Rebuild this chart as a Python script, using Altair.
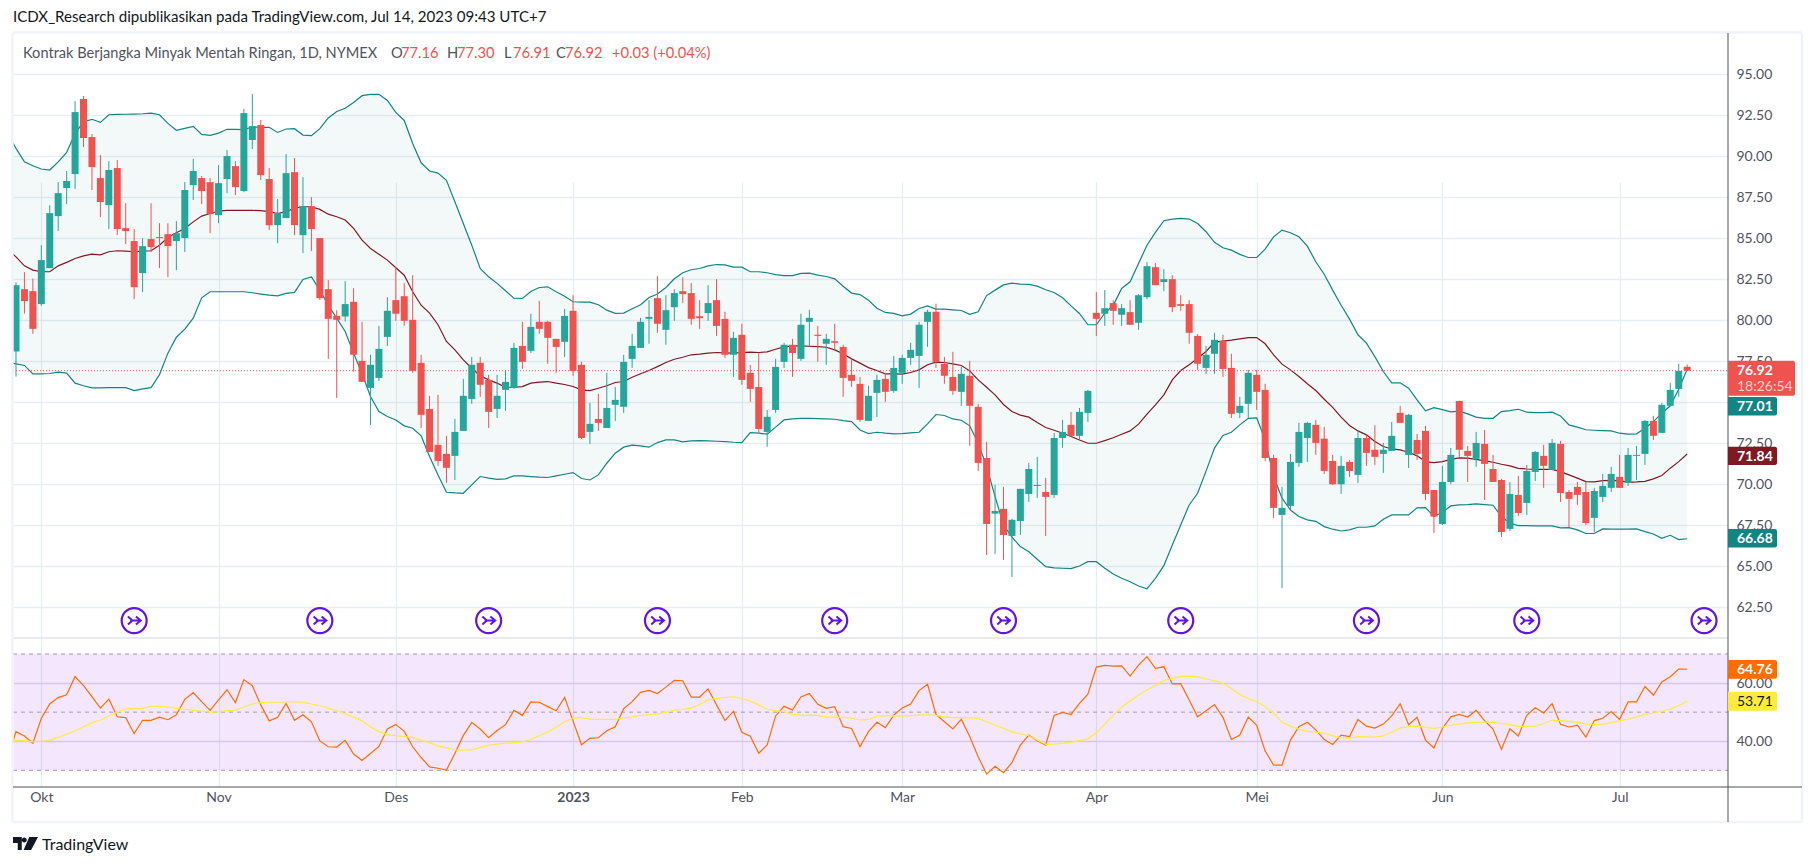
import altair as alt
import pandas as pd

directions = ("grrggggg" "rr"
              "rgrrrgrrrg"
              "ggrrggrggr"
              "rggrgrrrrg"
              "rrgggrrrrr"
              "rrgggrrggg"
              "rgrrrgrrgr"
              "ggggggrggr"
              "rrgrrgrrrg"
              "ggrggrgrrr"
              "rggrgggggr"
              "rrgrrrgrgg"
              "ggrggrggrg"
              "rgrggrgrrr"
              "rggrrggrrr"
              "ggggrrrgrg"
              "rrggrgrrrg"
              "grrgrrrgrg"
              "grgrrrrggg"
              "rgggrgggr")

body_top = [82.13,81.89,81.77,83.66,86.52,87.74,88.48,92.68,93.48,91.16,
88.66,89.15,89.27,85.61,84.82,84.51,84.94,85.06,85.24,85.30,
87.93,89.09,88.66,88.41,88.35,90.00,89.39,92.62,91.83,91.89,
88.60,86.52,88.96,89.02,86.95,86.95,85.00,81.89,80.26,80.98,
81.12,77.52,77.28,78.25,80.57,81.22,81.46,80.02,77.40,74.59,
72.40,71.85,73.19,75.39,77.28,77.40,76.36,75.39,76.24,78.31,
78.43,79.59,79.90,79.90,78.86,80.26,80.57,77.28,73.68,73.98,
74.65,75.14,77.46,78.43,79.90,80.20,81.34,80.61,81.65,81.77,
81.65,80.24,81.04,81.22,80.08,78.92,79.11,76.79,75.93,74.11,
77.15,78.50,78.50,79.72,80.14,79.11,78.86,78.72,78.37,76.67,
76.12,75.39,76.36,76.42,77.09,77.70,78.19,79.72,80.51,80.51,
77.34,76.54,76.73,76.61,74.72,71.60,68.37,68.50,67.83,69.72,
70.93,69.96,69.53,72.82,73.19,73.62,74.41,75.69,80.45,80.73,
81.04,80.73,80.49,81.52,83.29,83.23,82.50,82.50,80.98,80.98,
79.04,77.89,78.80,78.74,77.09,74.78,76.79,76.67,75.75,71.60,
68.56,71.36,73.19,73.74,73.62,72.78,71.42,71.12,71.36,72.82,
72.82,72.10,72.10,72.95,74.35,74.23,72.70,73.25,69.65,70.14,
71.79,75.08,72.03,72.52,72.46,70.93,70.26,69.41,69.35,70.81,
71.97,71.73,72.52,72.46,69.53,69.84,69.53,69.59,69.90,70.63,
70.45,71.79,71.79,73.86,73.86,74.84,75.75,76.91,77.16]

body_bottom = [78.09,81.16,79.47,80.98,83.17,86.34,88.05,88.90,91.10,89.33,
87.20,87.01,85.55,85.43,82.01,82.87,84.45,85.00,84.51,84.82,
85.00,88.23,87.87,86.46,86.40,88.60,88.11,87.87,90.98,88.84,
85.79,85.79,86.22,85.79,85.18,85.55,81.34,80.08,80.02,80.22,
77.89,76.24,75.87,76.48,78.98,80.39,79.96,76.91,74.23,71.97,
71.42,71.00,71.73,73.25,75.20,76.06,74.41,74.59,75.75,75.87,
77.46,78.13,79.47,78.92,78.37,78.68,76.91,72.82,73.19,73.74,
73.43,74.84,74.72,77.64,78.31,80.08,79.78,79.41,80.79,81.59,
80.08,80.12,80.43,79.65,77.89,77.89,76.36,75.81,73.37,73.19,
74.53,77.46,78.00,77.64,79.90,79.04,78.56,78.62,76.48,76.30,
73.92,73.86,75.57,75.63,75.69,76.79,77.70,77.82,79.90,77.46,
76.61,75.69,75.63,74.78,71.30,67.58,68.21,66.91,66.85,67.76,
69.41,69.90,69.23,69.35,72.82,72.95,72.95,74.35,80.08,80.39,
80.57,80.33,79.72,79.84,81.40,82.13,82.32,80.79,80.87,79.23,
77.34,77.09,77.95,77.03,74.29,74.35,74.90,75.63,71.60,68.56,
68.13,68.68,71.30,72.82,72.52,70.81,70.00,70.00,70.81,70.57,
71.91,71.67,71.85,72.03,73.74,71.79,71.85,69.41,68.03,67.58,
70.14,72.10,71.73,71.55,71.24,70.14,67.09,67.28,68.25,68.86,
70.75,71.12,70.87,69.47,69.11,69.35,67.64,67.95,69.23,69.78,
69.78,70.08,71.73,71.85,72.95,73.13,74.78,75.81,76.92]

highs = [82.30,82.93,82.54,84.57,87.01,88.41,89.09,93.35,93.66,91.34,
90.06,89.69,89.76,87.13,85.55,85.00,87.13,85.91,85.91,86.04,
88.41,89.82,88.78,88.66,89.45,90.37,89.69,92.87,93.78,92.20,
89.27,87.38,90.12,89.88,88.72,87.50,85.00,82.44,80.60,82.38,
81.95,79.90,77.89,79.65,81.40,83.25,82.26,82.74,77.89,75.39,
75.45,72.95,73.98,76.42,77.76,77.76,76.67,76.67,76.97,78.62,
79.90,80.39,81.18,79.96,78.86,80.69,81.52,77.46,74.96,75.51,
76.79,75.93,77.89,79.17,80.14,81.22,82.68,81.52,81.89,82.62,
82.26,81.22,82.13,82.50,80.51,79.29,79.78,77.28,78.00,74.53,
77.64,78.62,78.86,80.39,80.63,79.65,79.17,79.78,78.50,77.64,
76.54,76.00,76.67,76.79,77.82,77.89,78.62,79.90,80.63,81.00,
77.76,78.07,77.15,77.52,74.90,72.58,69.96,69.84,67.89,69.72,
71.30,71.67,70.39,73.13,73.92,74.41,74.65,75.75,81.71,81.83,
81.22,80.98,81.22,81.59,83.54,83.48,83.11,82.74,81.52,81.22,
79.15,78.43,79.23,79.11,77.95,75.33,76.97,76.97,76.12,71.79,
69.84,71.85,73.74,73.80,73.92,73.50,71.79,71.73,71.48,73.25,
73.00,73.60,72.52,73.80,74.78,74.29,73.07,73.56,69.65,71.12,
72.21,75.08,72.34,73.19,73.31,71.79,70.33,70.14,70.51,71.18,
72.03,72.40,72.76,72.64,69.65,70.14,70.14,69.78,70.63,71.06,
71.79,72.21,72.34,73.92,74.17,74.96,76.18,77.34,77.30]

lows = [76.56,80.40,79.17,80.87,83.17,85.43,87.07,87.99,90.55,87.93,
86.28,85.55,85.18,84.63,81.28,81.71,84.15,83.17,82.62,83.05,
84.15,87.32,87.07,85.30,85.91,87.74,87.62,87.80,90.43,88.54,
85.49,84.69,86.22,85.18,84.09,84.21,81.22,77.64,75.26,79.92,
76.87,76.24,73.62,76.30,78.43,79.96,79.65,76.79,73.43,71.97,
71.12,70.08,70.26,73.25,74.90,75.32,73.43,74.04,74.47,75.81,
77.03,78.00,79.17,77.34,76.79,77.76,76.61,72.76,72.46,73.25,
73.43,73.86,74.35,77.09,78.31,78.56,79.23,78.50,79.96,81.04,
79.72,79.47,79.96,79.04,77.70,76.54,76.06,75.02,73.13,72.28,
74.35,77.09,76.54,77.52,78.43,77.46,77.28,78.19,75.33,75.93,
73.80,73.86,74.10,75.02,75.57,76.12,77.28,75.87,78.37,77.09,
76.12,75.45,74.78,72.34,70.81,65.69,65.75,65.39,64.35,66.91,
68.92,69.17,66.85,69.17,72.22,72.89,72.70,73.80,79.04,79.65,
79.72,79.65,79.72,79.41,81.28,82.13,81.77,80.49,80.57,78.56,
76.97,76.73,76.73,76.54,74.04,74.04,74.04,74.53,71.42,67.95,
63.68,68.43,71.06,71.36,71.79,70.63,69.96,69.41,70.45,70.08,
71.12,71.18,70.69,72.03,73.74,70.99,71.48,69.04,67.03,67.52,
70.00,71.67,70.14,71.06,69.04,70.14,66.79,67.16,68.07,68.13,
70.20,69.78,70.87,68.92,67.40,68.74,67.52,67.09,68.92,69.53,
69.78,69.90,70.26,71.18,72.70,73.13,74.78,75.33,76.91]

bb_upper = [90.47,89.65,89.41,89.21,89.15,89.65,90.22,91.38,92.09,92.24,
92.05,92.52,92.54,92.55,92.56,92.58,92.62,92.52,91.99,91.57,
91.69,91.81,91.32,91.26,91.40,91.63,91.63,91.61,91.77,91.75,
91.75,91.44,91.65,91.67,91.28,91.24,91.67,92.32,92.72,92.91,
93.27,93.68,93.76,93.76,93.39,92.66,92.17,90.77,89.59,89.09,
88.96,88.52,87.22,85.89,84.57,83.15,82.64,82.24,81.79,81.34,
81.32,81.75,81.99,82.03,81.73,81.46,81.12,81.10,81.10,80.94,
80.61,80.41,80.43,80.69,80.94,81.38,81.59,81.99,82.52,82.89,
83.07,83.15,83.31,83.39,83.37,83.23,83.23,82.95,82.95,82.89,
82.78,82.72,82.72,82.85,82.87,82.74,82.66,82.52,82.07,81.65,
81.56,81.22,80.73,80.47,80.41,80.26,80.37,80.71,80.87,80.67,
80.67,80.63,80.59,80.35,80.51,81.50,81.83,82.15,82.26,82.20,
82.18,82.07,81.85,81.69,81.36,80.87,80.41,79.72,79.72,80.43,
80.90,81.93,82.34,83.45,84.57,85.35,86.06,86.16,86.20,86.16,
85.89,85.39,84.74,84.41,84.27,84.01,83.82,83.82,84.33,85.08,
85.49,85.33,85.08,84.51,83.56,82.80,81.83,80.91,80.06,79.11,
78.60,77.78,76.87,76.18,76.18,75.85,75.14,74.47,74.67,74.55,
74.41,74.45,74.29,74.09,74.02,74.02,74.43,74.49,74.57,74.39,
74.37,74.37,74.39,74.16,73.62,73.48,73.32,73.29,73.27,73.25,
73.11,73.05,73.07,73.41,73.82,74.33,74.78,75.79,77.01]

bb_lower = [77.34,77.24,76.73,76.73,76.75,76.83,76.77,76.16,76.00,75.87,
75.87,75.89,75.89,75.89,75.71,75.81,75.89,76.67,77.99,78.96,
79.45,80.12,81.36,81.73,81.73,81.73,81.73,81.73,81.67,81.59,
81.52,81.48,81.63,81.69,82.48,82.64,81.83,80.91,80.12,79.31,
77.99,76.73,75.35,74.43,74.13,73.92,73.56,73.41,72.95,71.69,
70.57,69.51,69.47,69.45,69.96,70.47,70.37,70.30,70.33,70.51,
70.51,70.47,70.43,70.41,70.51,70.61,70.71,70.35,70.26,70.57,
71.28,71.89,72.26,72.38,72.34,72.26,72.54,72.70,72.70,72.58,
72.64,72.66,72.64,72.62,72.60,72.56,72.54,73.15,73.11,73.05,
73.48,73.92,73.98,74.02,74.02,74.00,73.98,73.96,73.88,73.82,
73.31,73.09,73.17,73.11,73.07,73.09,73.13,73.17,73.68,74.25,
74.19,73.98,73.90,73.56,72.50,71.08,69.25,67.52,66.77,66.20,
65.89,65.43,64.98,64.90,64.88,64.86,65.02,65.28,65.28,64.88,
64.53,64.27,64.06,63.80,63.63,64.27,65.04,66.30,67.52,68.74,
69.45,70.80,72.20,72.97,73.17,73.62,74.02,74.04,72.70,70.47,
69.15,68.43,68.03,67.83,67.74,67.42,67.26,67.15,67.22,67.38,
67.38,67.46,67.87,68.13,68.13,68.13,68.56,68.58,68.03,68.29,
68.68,68.74,68.76,68.80,68.76,68.72,68.03,67.62,67.48,67.48,
67.46,67.46,67.46,67.34,67.36,67.22,67.00,67.00,67.28,67.26,
67.26,67.26,67.28,67.11,66.97,66.71,66.89,66.63,66.68]

bb_basis = [83.86,83.31,83.05,82.95,82.95,83.31,83.52,83.76,83.92,84.02,
83.98,84.17,84.23,84.21,84.17,84.21,84.23,84.57,85.04,85.33,
85.59,85.99,86.34,86.50,86.65,86.69,86.69,86.69,86.69,86.67,
86.61,86.50,86.61,86.83,86.91,86.91,86.75,86.46,86.30,86.10,
85.59,84.88,84.37,84.02,83.66,83.19,82.74,81.73,80.91,80.43,
79.72,78.70,78.19,77.58,77.07,76.61,76.36,76.16,75.91,75.91,
75.95,76.16,76.22,76.26,76.16,76.08,75.96,75.75,75.71,75.85,
76.00,76.20,76.26,76.52,76.73,76.93,77.17,77.42,77.62,77.74,
77.89,77.93,77.99,78.03,78.01,77.99,78.03,78.05,78.03,78.07,
78.23,78.37,78.43,78.43,78.41,78.39,78.35,78.19,77.95,77.64,
77.38,77.11,76.93,76.73,76.73,76.71,76.81,76.97,77.28,77.44,
77.42,77.34,77.24,76.91,76.36,75.91,75.45,74.86,74.43,74.21,
74.09,73.76,73.46,73.29,73.11,72.91,72.70,72.50,72.50,72.66,
72.83,73.05,73.25,73.66,74.27,74.84,75.45,76.36,76.93,77.28,
77.68,78.09,78.66,78.72,78.78,78.86,78.94,78.94,78.56,77.89,
77.32,76.97,76.57,76.12,75.71,75.18,74.69,74.09,73.58,73.25,
73.01,72.60,72.30,72.15,72.09,71.95,71.73,71.38,71.32,71.38,
71.52,71.61,71.59,71.52,71.42,71.34,71.22,71.12,70.97,70.93,
70.91,70.91,70.91,70.77,70.57,70.37,70.16,70.14,70.22,70.24,
70.22,70.12,70.14,70.18,70.33,70.53,70.98,71.38,71.84]

rsi_values = [43.3,41.8,39.3,47.9,52.8,55,56,62.2,59.1,55.3,
51.4,54.5,48.4,48.1,42.6,47.2,47.2,48.3,47.4,49.1,
54.4,56.7,53.6,50.6,54.2,57.7,53.3,61.2,59.1,52.5,
47,48.2,53,47.2,49.1,46.7,40.1,38.1,38,40.3,
35.6,33.4,35.8,38.2,44.2,45.8,43.4,38.1,34.4,31.2,
30.7,30.1,35.8,42,46.5,44.2,41.2,43.7,45.7,50.6,
48.9,53.5,53.4,51.9,50.5,55.1,47,38.8,41,41.2,
43.6,45,51.2,53.6,56.8,57.5,56.4,58.6,60.9,60.8,
55.2,55.2,58,52.5,47.1,50.3,43.1,41.7,35.9,38.7,
48.7,52,50.7,55.2,56.4,52.7,51.3,51.9,45,44.4,
38.1,43.3,46.5,44.7,49,51.4,52.8,57.4,59.6,49.2,
46.7,44.2,47.5,41.6,34.7,28.7,31.4,29.2,32.6,38.7,
42.1,40.2,38.7,48.9,49.9,49.2,53,56.2,65.5,66.1,
65.8,65.9,62.4,66.2,69.1,65.1,65.6,59.7,59.8,54.2,
48.4,50.5,52.6,48.2,40.6,42.1,48.3,45.5,36.6,31.8,
31.8,40.4,45,46.5,43.9,40.6,38.9,42.1,41.6,47.5,
45.2,44.5,45.9,48.7,52.9,45.7,48.2,40.4,37.7,44.4,
48.4,49.2,48.3,50.6,47.1,44.2,37.2,44.3,41.8,48.9,
51.5,49.7,52.9,45.8,44.9,45.5,41.4,47.1,47.9,50.2,
47.5,53.5,53.5,58.8,55.8,60.4,62.2,64.8,64.76]

rsi_ma = [40.3,40.2,39.8,40,40.4,41.3,42.4,43.6,45,46.4,
47.3,48.7,50,51.1,51.2,51.3,52,52,51.7,51.3,
51,50.6,50.4,50,50.1,50.5,50.7,51.7,52.8,53.3,
53.4,53.4,53.5,53.5,53.4,52.8,52.2,51.4,50.5,49.5,
48.3,47,45,43.3,42.2,41.9,41.6,41.3,40.4,39.5,
38.3,37.7,37,36.9,37,37.9,38.6,39,39.4,39.5,
39.8,40.6,41.9,43.2,44.8,46.7,47.9,48.1,47.6,47.5,
47.5,47.5,48,48.4,48.9,49.1,49.4,50,50.6,51,
51.4,52.7,54.2,54.7,55,55.3,54.7,53.8,52.5,51,
50.5,50.2,49.2,49,48.9,48.9,48.3,48.3,48.2,47.9,
47.3,47.5,48.6,48.7,48.7,48.7,48.8,49,49.1,48.9,
48.4,48.1,48.1,48,47.9,46.7,45.6,44.4,43.2,42.5,
41.9,40.4,38.9,39,39.3,39.6,40.2,40.9,42.9,45.9,
49,51.7,53.8,55.9,57.6,59.2,60.9,61.6,62.2,62.4,
62.1,61.4,60.8,59.9,58.1,56.1,54.7,53.6,51.9,49.6,
46.5,45.2,44.1,43.5,43.1,42.7,41.9,41.2,41.1,41.6,
41.5,41.3,41.9,43.1,44.6,45,45.2,44.8,44.4,44.9,
45.5,45.9,46.3,46.5,46.6,46.6,46.1,45.7,45,45.1,
45.2,46.1,47.2,47.1,46.8,46.5,45.9,45.8,45.9,46.4,
47.1,47.6,48.4,49.2,49.7,50.3,51,52.3,53.71]

# Line readings for the bar that falls just off the left edge of the frame.
lead_in_bar = -1
lead_in = {"upper": 91.4, "lower": 77.4, "basis": 84.3, "rsi": 34.0, "ma": 40.4}

month_ticks = [3, 24, 45, 66, 86, 105, 128, 147, 169, 190]
month_labels = ["Okt", "Nov", "Des", "2023", "Feb", "Mar", "Apr", "Mei", "Jun", "Jul"]
price_ticks = [62.5, 65, 67.5, 70, 72.5, 75, 77.5, 80, 82.5, 85, 87.5, 90, 92.5, 95]
rsi_ticks = [40, 60]
rsi_levels = [70, 50, 30]
idea_bars = [14, 36, 56, 76, 97, 117, 138, 160, 179, 200]

UP, DOWN = "#26a69a", "#ef5350"
BAND, BASIS = "#138484", "#801922"
GRID, FRAME, AXIS_LINE, TEXT = "#e6edf3", "#f0f3fa", "#50535e", "#50535e"
IDEA = "#5f14e8"
FONT = "Lato"
W, H = 1715, 754

X_SCALE = alt.Scale(domain=[-0.355, 202.84], range=[0, W], padding=0, nice=False, zero=False)
PRICE = alt.Scale(domain=[60.63, 97.5], range=[605, 0], nice=False, zero=False)
RSI = alt.Scale(domain=[24.26, 75.5], range=[754, 605], nice=False, zero=False)

df = pd.DataFrame({
    "i": list(range(len(body_top))),
    "top": body_top, "bottom": body_bottom, "high": highs, "low": lows,
    "dir": list(directions),
    "upper": bb_upper, "lower": bb_lower, "basis": bb_basis,
    "rsi": rsi_values, "ma": rsi_ma,
})
lines_df = pd.concat([pd.DataFrame([{"i": lead_in_bar, **lead_in}]),
                      df[["i", "upper", "lower", "basis", "rsi", "ma"]]], ignore_index=True)
base = alt.Chart(df)
lines = alt.Chart(lines_df)

label_expr = "[" + ",".join(f"'{m}'" for m in month_labels) + "][indexof(" + str(month_ticks) + ", datum.value)]"
x_axis = alt.Axis(values=month_ticks, labelExpr=label_expr, grid=True, gridColor=GRID, gridWidth=1.3,
                  domain=False, ticks=False, labelFont=FONT, labelFontSize=14, labelColor=TEXT,
                  labelPadding=10, labelOverlap=False, labelBaseline="middle",
                  labelFontWeight=alt.expr("datum.value == 66 ? 'bold' : 'normal'"), title=None)
price_axis = alt.Axis(orient="right", values=price_ticks, format=".2f", grid=True, gridColor=GRID, gridWidth=1.3,
                      domain=False, ticks=False, labelFont=FONT, labelFontSize=14, labelColor=TEXT,
                      labelPadding=8, labelOverlap=False, title=None)
rsi_axis = alt.Axis(orient="right", values=rsi_ticks, format=".2f", grid=True, gridColor="#e0dcec", gridWidth=1.3,
                    domain=False, ticks=False, labelFont=FONT, labelFontSize=14, labelColor=TEXT,
                    labelPadding=8, labelOverlap=False, title=None)


def px(field):
    return alt.X(f"{field}:Q", scale=X_SCALE, axis=x_axis, title=None)


def py(field, axis=None):
    return alt.Y(f"{field}:Q", scale=PRICE, axis=axis, title=None)


def ry(field, axis=None):
    return alt.Y(f"{field}:Q", scale=RSI, axis=axis, title=None)


def label(text, x, y, color=TEXT, size=14.7, align="left", weight="normal"):
    return alt.Chart(alt.Data(values=[{"t": text}])).mark_text(
        align=align, baseline="middle", font=FONT, fontSize=size, color=color, fontWeight=weight
    ).encode(text="t:N", x=alt.value(x - 13), y=alt.value(y - 33))


def frame_rule(x, x2, y, y2, color, width):
    return alt.Chart(alt.Data(values=[{"a": 0}])).mark_rule(color=color, strokeWidth=width).encode(
        x=alt.value(x), x2=alt.value(x2), y=alt.value(y), y2=alt.value(y2))


def badge(hi, lo, scale, color, right=1777):
    return alt.Chart(alt.Data(values=[{"a": hi, "b": lo}])).mark_rect(
        color=color, cornerRadiusTopRight=2, cornerRadiusBottomRight=2
    ).encode(x=alt.value(W), x2=alt.value(right - 13),
             y=alt.Y("a:Q", scale=scale, axis=None, title=None), y2="b:Q")


# bands and indicator lines
band = lines.mark_area(color=BAND, opacity=0.05, clip=True).encode(
    x=px("i"), y=py("upper", price_axis), y2="lower:Q")
upper_line = lines.mark_line(color=BAND, strokeWidth=1.2, clip=True).encode(x=px("i"), y=py("upper"))
lower_line = lines.mark_line(color=BAND, strokeWidth=1.2, clip=True).encode(x=px("i"), y=py("lower"))
basis_line = lines.mark_line(color=BASIS, strokeWidth=1.2, clip=True).encode(x=px("i"), y=py("basis"))

# candles
candle_color = alt.Color("dir:N", scale=alt.Scale(domain=["g", "r"], range=[UP, DOWN]), legend=None)
wicks = base.mark_rule(strokeWidth=1, clip=True).encode(x=px("i"), y=py("low"), y2="high:Q", color=candle_color)
bodies = base.mark_bar(size=7, clip=True).encode(x=px("i"), y=py("top"), y2="bottom:Q", color=candle_color)

last_price = alt.Chart(alt.Data(values=[{"p": 76.92}])).mark_rule(
    color=DOWN, strokeDash=[1, 2], strokeWidth=1
).encode(x=alt.value(0), x2=alt.value(W), y=py("p"))

# idea markers
ideas = pd.DataFrame({"i": idea_bars, "p": [61.69] * len(idea_bars)})
idea_ring = alt.Chart(ideas).mark_point(shape="circle", size=625, filled=False, color=IDEA, strokeWidth=2.2, opacity=1).encode(
    x=px("i"), y=py("p"))
idea_arrow = alt.Chart(ideas).mark_point(
    shape="M-0.5,-0.32 L-0.14,0 L-0.5,0.32 M-0.32,0 L0.52,0 M0.14,-0.32 L0.52,0 L0.14,0.32",
    size=625, filled=False, color=IDEA, strokeWidth=2, opacity=1
).encode(x=px("i"), y=py("p"))

# RSI pane
rsi_fill = alt.Chart(alt.Data(values=[{"a": 70, "b": 30}])).mark_rect(color="#910feb", opacity=0.1).encode(
    x=alt.value(0), x2=alt.value(W), y=ry("a"), y2="b:Q")
levels = alt.Chart(pd.DataFrame({"v": rsi_levels})).mark_rule(
    color="#a39ba8", strokeDash=[4, 4], strokeWidth=1
).encode(x=alt.value(0), x2=alt.value(W), y=ry("v"))
rsi_line = lines.mark_line(color="#ff6d00", strokeWidth=1.2, clip=True).encode(x=px("i"), y=ry("rsi", rsi_axis))
ma_line = lines.mark_line(color="#ffeb3b", strokeWidth=1.2, clip=True).encode(x=px("i"), y=ry("ma"))

frame = [
    frame_rule(0, W, 605, 605, "#e0e3eb", 1.3),
    frame_rule(0, 1789, -0.5, -0.5, FRAME, 2.5),
    frame_rule(-0.5, -0.5, 0, 789, FRAME, 2.5),
    frame_rule(1789, 1789, 0, 789, FRAME, 2.5),
    frame_rule(0, 1789, 789, 789, FRAME, 2.5),
    frame_rule(0, 1789, H, H, AXIS_LINE, 1),
    frame_rule(W, W, 0, 789, AXIS_LINE, 1),
]

badges = [
    badge(77.52, 75.39, PRICE, DOWN, right=1795),
    badge(75.31, 74.19, PRICE, BAND),
    badge(72.28, 71.17, PRICE, BASIS),
    badge(67.27, 66.15, PRICE, BAND),
    badge(67.9, 61.5, RSI, "#ff6d00"),
    badge(57.0, 50.5, RSI, "#ffeb3b"),
]
badge_text = [
    label("76.92", 1737, 371, "white", 14, weight="bold"),
    label("18:26:54", 1737, 387, "#fbd0ce", 14),
    label("77.01", 1737, 406.5, "white", 14, weight="bold"),
    label("71.84", 1737, 456.5, "white", 14, weight="bold"),
    label("66.68", 1737, 538.5, "white", 14, weight="bold"),
    label("64.76", 1737, 670, "white", 14, weight="bold"),
    label("53.71", 1737, 701.5, "#131722", 14),
]

header = [
    label("ICDX_Research dipublikasikan pada TradingView.com, Jul 14, 2023 09:43 UTC+7", 13, 16.5, "#131722", 15.1),
    label("Kontrak Berjangka Minyak Mentah Ringan, 1D, NYMEX", 23, 53.5, TEXT, 14.6),
    label("O", 391, 53.5), label("77.16", 401, 53.5, DOWN),
    label("H", 447, 53.5), label("77.30", 457, 53.5, DOWN),
    label("L", 504, 53.5), label("76.91", 513, 53.5, DOWN),
    label("C", 556, 53.5), label("76.92", 565, 53.5, DOWN),
    label("+0.03 (+0.04%)", 612, 53.5, DOWN),
    label("TradingView", 42, 844.5, "#131722", 16),
]

logo = alt.Chart(alt.Data(values=[{"a": 0}])).mark_point(
    shape="M-1,-0.52 H-0.3 V0.52 H-0.62 V-0.04 H-1 Z M0.3,-0.52 H1 L0.45,0.52 H-0.15 Z "
          "M-0.3,-0.28 A0.2,0.2 0 1 1 0.1,-0.28 A0.2,0.2 0 1 1 -0.3,-0.28 Z",
    size=625, filled=True, color="#131722", opacity=1, strokeWidth=0
).encode(x=alt.value(12.5), y=alt.value(810.5))

chart = alt.layer(
    rsi_fill, band, levels, upper_line, lower_line, basis_line, last_price,
    wicks, bodies, idea_ring, idea_arrow, rsi_line, ma_line,
    *frame, *badges, *badge_text, *header, logo,
).resolve_scale(y="independent", color="independent").properties(
    width=W, height=H, background="white",
    padding={"left": 5, "top": 25, "right": 76, "bottom": 72},
    autosize=alt.AutoSizeParams(type="none"),
).configure_view(stroke=None)

chart.save("out.html", embed_options={"renderer": "svg", "actions": False})
